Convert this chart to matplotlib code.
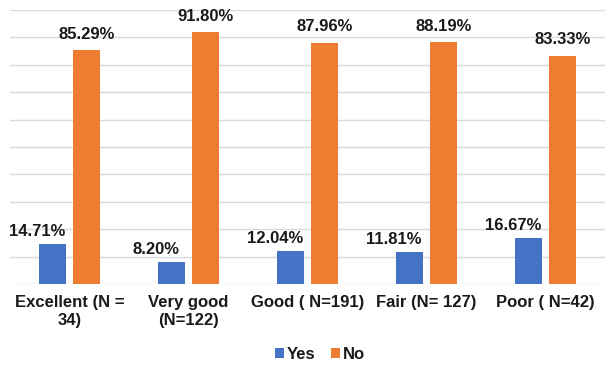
import numpy as np
import matplotlib.pyplot as plt

plt.rcParams['font.family'] = ['Liberation Sans', 'DejaVu Sans']

categories = ['Excellent (N =\n34)', 'Very good\n(N=122)', 'Good ( N=191)', 'Fair (N= 127)', 'Poor ( N=42)']
yes_vals = [14.71, 8.20, 12.04, 11.81, 16.67]
no_vals = [85.29, 91.80, 87.96, 88.19, 83.33]

fig = plt.figure(figsize=(6.12, 3.68), dpi=100)
ax = fig.add_axes([0.016, 0.228, 0.973, 0.745])

x = np.arange(len(categories))
w = 0.225
gap = 0.06
b1 = ax.bar(x - (w + gap) / 2, yes_vals, w, color='#4472C4', label='Yes', zorder=3)
b2 = ax.bar(x + (w + gap) / 2, no_vals, w, color='#ED7D31', label='No', zorder=3)

# labels: Yes ones sit a bit to the left, like the original
for r, v in zip(b1, yes_vals):
    ax.text(r.get_x() + r.get_width() / 2 - 0.13, v + 2.9, f'{v:.2f}%',
            ha='center', va='baseline', fontsize=12, fontweight='bold', color='#1a1a1a')
for r, v in zip(b2, no_vals):
    ax.text(r.get_x() + r.get_width() / 2, v + 4.2, f'{v:.2f}%',
            ha='center', va='baseline', fontsize=12, fontweight='bold', color='#1a1a1a')

ax.set_ylim(0, 100)
ax.set_xlim(-0.5, len(categories) - 0.5)
ax.set_yticks(np.arange(0, 101, 10))
ax.set_yticklabels([])
ax.yaxis.grid(True, color='#D9D9D9', linewidth=1, zorder=0)
ax.tick_params(axis='y', length=0)
ax.tick_params(axis='x', length=0, pad=8)
ax.set_xticks(x)
ax.set_xticklabels(categories, fontsize=12, fontweight='bold', linespacing=1.2, color='#1a1a1a')
for s in ax.spines.values():
    s.set_visible(False)

fig.legend(loc='center', bbox_to_anchor=(0.523, 0.037), ncol=2, frameon=False,
           prop={'size': 12, 'weight': 'bold'}, handlelength=0.55, handleheight=0.55,
           handletextpad=0.2, columnspacing=0.9, labelcolor='#1a1a1a')

fig.savefig('out.png', dpi=100)
